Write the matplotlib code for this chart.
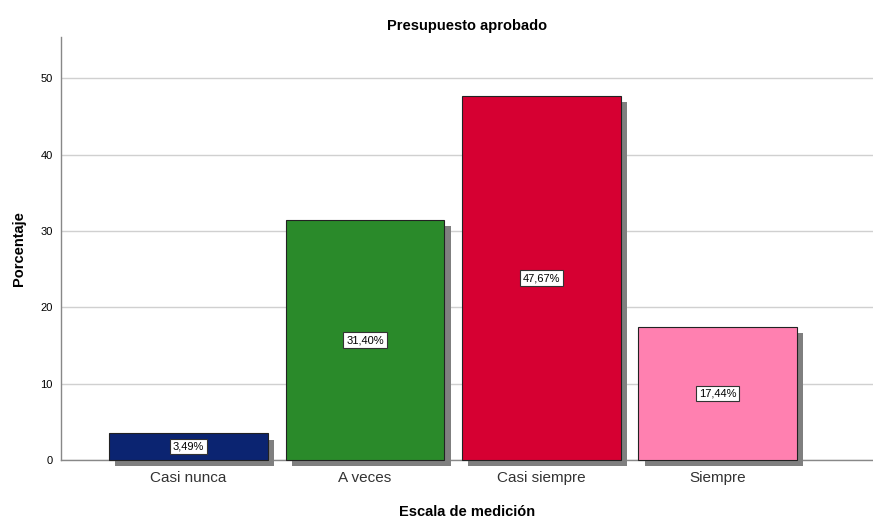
import matplotlib
matplotlib.use("Agg")
import matplotlib.pyplot as plt
import matplotlib.patheffects as pe

plt.rcParams["font.family"] = ["Liberation Sans", "DejaVu Sans"]

categories = ["Casi nunca", "A veces", "Casi siempre", "Siempre"]
values = [3.49, 31.40, 47.67, 17.44]
labels = ["3,49%", "31,40%", "47,67%", "17,44%"]
colors = ["#0b2471", "#2a8a2a", "#d60032", "#ff80b0"]
yticks = [0, 10, 20, 30, 40, 50]

fig = plt.figure(figsize=(8.73, 5.17), dpi=100)
ax = fig.add_axes([61/873, 57/517, 812/873, 423/517])

x = list(range(len(categories)))
bars = ax.bar(x, values, width=0.9, color=colors, edgecolor="#222222", linewidth=0.8,
              zorder=3, clip_on=False)
for b in bars:
    b.set_path_effects([pe.SimplePatchShadow(offset=(4.5, -4.5), shadow_rgbFace="#7f7f7f", alpha=1.0),
                        pe.Normal()])

for xi, v, lab in zip(x, values, labels):
    ax.text(xi, v / 2, lab, ha="center", va="center", fontsize=8, color="black", zorder=5,
            bbox=dict(boxstyle="square,pad=0.25", facecolor="white", edgecolor="#333333", linewidth=0.8))

ax.set_xlim(-0.723, 3.88)
ax.set_ylim(0, 55.4)
ax.set_yticks(yticks)
ax.set_xticks(x)
ax.set_xticklabels(categories, fontsize=11, color="#333333")
ax.tick_params(axis="y", labelsize=8, length=0, pad=6)
ax.tick_params(axis="x", length=0, pad=8)
ax.yaxis.grid(True, color="#d0d0d0", linewidth=1.0, zorder=0)
ax.set_axisbelow(True)

for s in ["top", "right"]:
    ax.spines[s].set_visible(False)
for s in ["left", "bottom"]:
    ax.spines[s].set_color("#888888")
    ax.spines[s].set_linewidth(1.0)

ax.set_title("Presupuesto aprobado", fontsize=10.5, fontweight="bold", pad=5)
ax.set_ylabel("Porcentaje", fontsize=10.5, fontweight="bold", labelpad=10)
ax.set_xlabel("Escala de medición", fontsize=10.5, fontweight="bold", labelpad=14)

fig.savefig("out.png", dpi=100)
